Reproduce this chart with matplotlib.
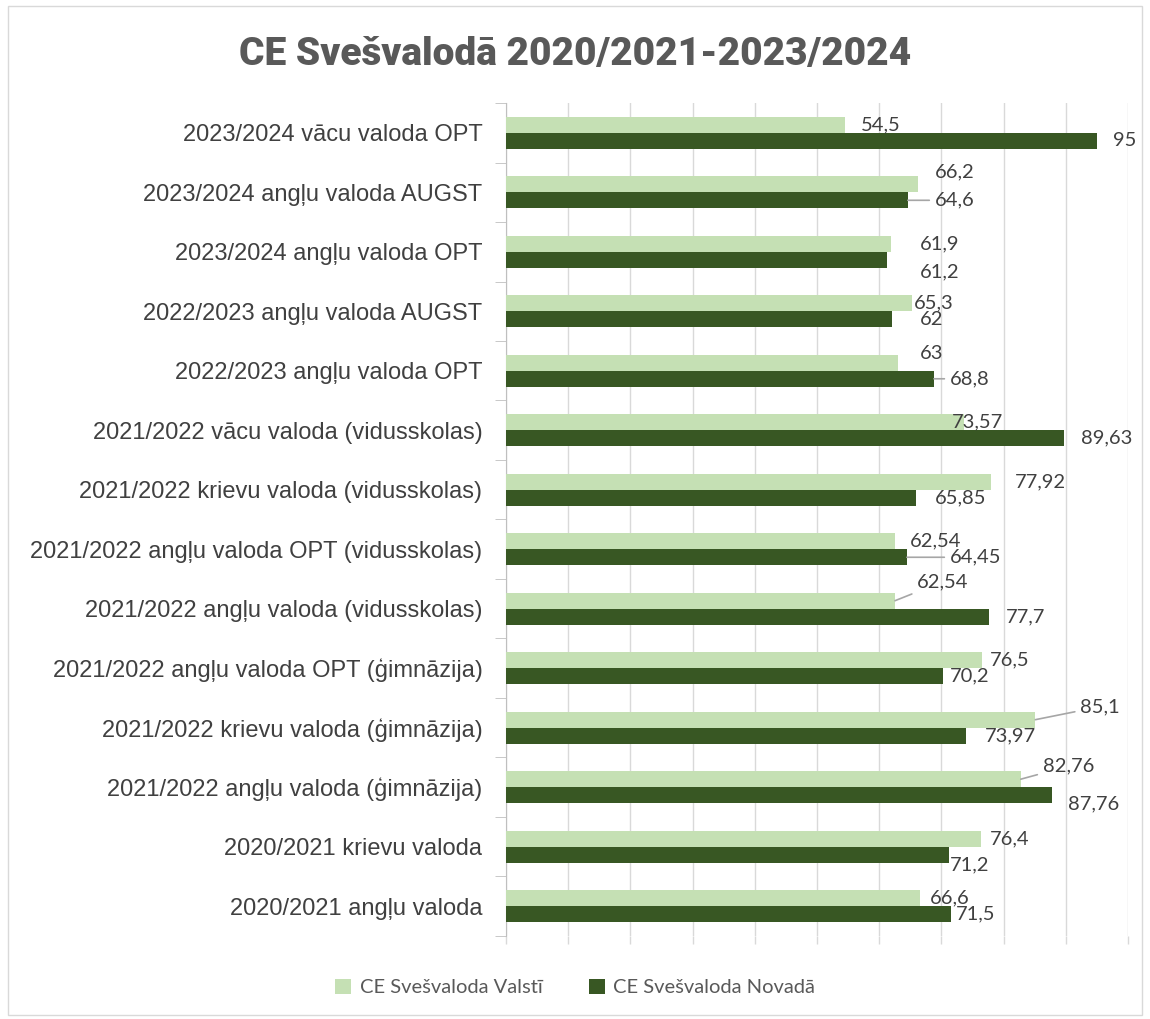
import matplotlib.pyplot as plt
import numpy as np
from matplotlib.patches import Rectangle

# data, listed top to bottom as in the chart
categories = [
    "2023/2024 vācu valoda OPT",
    "2023/2024 angļu valoda AUGST",
    "2023/2024 angļu valoda OPT",
    "2022/2023 angļu valoda AUGST",
    "2022/2023 angļu valoda OPT",
    "2021/2022 vācu valoda (vidusskolas)",
    "2021/2022 krievu valoda (vidusskolas)",
    "2021/2022 angļu valoda OPT (vidusskolas)",
    "2021/2022 angļu valoda (vidusskolas)",
    "2021/2022 angļu valoda OPT (ģimnāzija)",
    "2021/2022 krievu valoda (ģimnāzija)",
    "2021/2022 angļu valoda (ģimnāzija)",
    "2020/2021 krievu valoda",
    "2020/2021 angļu valoda",
]
valsti = [54.5, 66.2, 61.9, 65.3, 63, 73.57, 77.92, 62.54, 62.54, 76.5, 85.1, 82.76, 76.4, 66.6]
novada = [95, 64.6, 61.2, 62, 68.8, 89.63, 65.85, 64.45, 77.7, 70.2, 73.97, 87.76, 71.2, 71.5]
series_names = ["CE Svešvaloda Valstī", "CE Svešvaloda Novadā"]
title = "CE Svešvalodā 2020/2021-2023/2024"

# label placement (pixels from bar end / bar centre), and leader line flag
off_valsti = [(16, 0), (17, 12), (29, 0), (2, 0), (22, 9), (-12, 0), (24, 0),
              (15, 0), (22, 19), (8, 0), (45, 13), (22, 13), (9, 0), (10, 0)]
lead_valsti = [0, 0, 0, 0, 0, 0, 0, 0, 1, 0, 1, 1, 0, 0]
off_novada = [(16, 0), (27, 0), (33, -12), (28, 0), (16, 0), (17, 0), (19, 0),
              (43, 0), (17, 0), (7, 0), (19, 0), (16, -9), (1, -10), (5, 0)]
lead_novada = [0, 1, 0, 0, 1, 0, 0, 1, 0, 0, 0, 0, 0, 0]

light = "#c5e0b4"
dark = "#385723"
txt = "#404040"

fig = plt.figure(figsize=(11.5, 10.19), dpi=100)
fig.patches.append(Rectangle((0.007, 0.004), 0.986, 0.99, transform=fig.transFigure,
                             fill=False, edgecolor="#d9d9d9", lw=1))
ax = fig.add_axes([0.44, 0.0815, 0.5409, 0.8174])

n = len(categories)
y = np.arange(n)[::-1]
h = 0.27
ax.barh(y + h / 2, valsti, height=h, color=light, label=series_names[0], zorder=3)
ax.barh(y - h / 2, novada, height=h, color=dark, label=series_names[1], zorder=3)


def fmt(v):
    return ("%g" % v).replace(".", ",")


def put_labels(vals, ys, offs, leads):
    for v, yy, (dx, dy), ld in zip(vals, ys, offs, leads):
        props = None
        if ld:
            props = dict(arrowstyle="-", color="#a6a6a6", lw=1.2, shrinkA=2, shrinkB=0)
        ax.annotate(fmt(v), (v, yy), xytext=(dx, dy), textcoords="offset pixels",
                    ha="left", va="center", fontsize=14.5, color=txt,
                    family="Lato", arrowprops=props, zorder=5)


put_labels(valsti, y + h / 2, off_valsti, lead_valsti)
put_labels(novada, y - h / 2, off_novada, lead_novada)

ax.set_xlim(0, 100)
ax.set_ylim(-0.5, n - 0.5)
ax.set_xticks(np.arange(0, 101, 10))
ax.set_xticklabels([])
ax.tick_params(axis="x", length=6, color="#d9d9d9", width=1)
ax.grid(axis="x", color="#d9d9d9", lw=1, zorder=0)
ax.set_yticks(y)
ax.set_yticklabels(categories, fontsize=17, color=txt, family="Liberation Sans")
ax.set_yticks(np.arange(-0.5, n, 1), minor=True)
ax.tick_params(axis="y", which="major", length=0, pad=17)
ax.tick_params(axis="y", which="minor", length=8, color="#bfbfbf")
for s in ["top", "right", "bottom"]:
    ax.spines[s].set_visible(False)
ax.spines["left"].set_color("#bfbfbf")

fig.text(0.5, 0.947, title, ha="center", va="center", fontsize=28,
         fontweight="black", family="Roboto", color="#595959")

fig.legend(loc="center", bbox_to_anchor=(0.5, 0.031), ncol=2, frameon=False,
           prop=dict(family="Lato", size=14.5), labelcolor="#595959",
           handlelength=0.8, handleheight=0.8, handletextpad=0.4, columnspacing=2.3)

fig.savefig("out.png", dpi=100)
